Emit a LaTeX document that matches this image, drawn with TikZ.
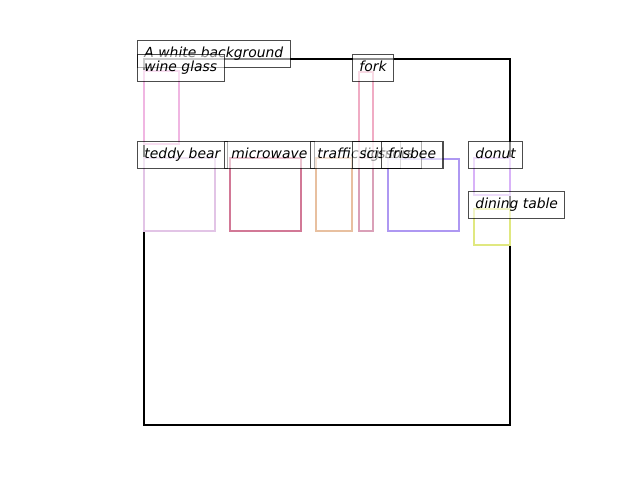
\documentclass[tikz,border=0pt]{standalone}
\usepackage{fontspec}
\setmainfont{DejaVu Sans}
\begin{document}
\begin{tikzpicture}[
			x=0.72pt, y=-0.72pt,
			box/.style={line width=1.9pt},
			tag/.style={anchor=west, draw=black, draw opacity=0.7, fill=white, fill opacity=0.55, text opacity=1,
					line width=0.75pt, inner xsep=5pt, inner ysep=0pt, minimum height=19.4pt,
					text height=7.6pt, text depth=2.2pt, font=\itshape}
		]
		\useasboundingbox (0,0) rectangle (640,480);
		\definecolor{wineglass}{HTML}{F0B6E2}
		\definecolor{teddybear}{HTML}{E2C4E6}
		\definecolor{microwave}{HTML}{D27896}
		\definecolor{trafficlight}{HTML}{E8C0A0}
		\definecolor{fork}{HTML}{F0ACC4}
		\definecolor{scissors}{HTML}{DAA0B8}
		\definecolor{frisbee}{HTML}{AE98F2}
		\definecolor{donut}{HTML}{D8B2F8}
		\definecolor{diningtable}{HTML}{E0E880}
		\draw[line width=1.5pt] (144,59) rectangle (510,425);
		\draw[box, wineglass] (144,71) rectangle (179,144);
		\draw[box, teddybear] (144,158) rectangle (215,231);
		\draw[box, microwave] (230,158) rectangle (301,231);
		\draw[box, trafficlight] (316,158) rectangle (352,231);
		\draw[box, fork] (359,72) rectangle (373,231);
		\draw[box, scissors] (359,158) rectangle (373,231);
		\draw[box, frisbee] (388,159) rectangle (459,231);
		\draw[box, donut] (474,158) rectangle (510,195);
		\draw[box, diningtable] (474,209) rectangle (510,245);
		\node[tag] (background) at (137,54) {A white background};
		\node[tag] (wineglasstag) at (137,68) {wine glass};
		\node[tag] (forktag) at (352,68) {fork};
		\node[tag] (teddybeartag) at (137,155) {teddy bear};
		\node[tag] (microwavetag) at (224,155) {microwave};
		\node[tag] (trafficlighttag) at (310,155) {traffic light};
		\node[tag] (scissorstag) at (352,155) {scissors};
		\node[tag] (frisbeetag) at (381,155) {frisbee};
		\node[tag] (donuttag) at (468,155) {donut};
		\node[tag] (diningtabletag) at (468,205) {dining table};
	\end{tikzpicture}
\end{document}
